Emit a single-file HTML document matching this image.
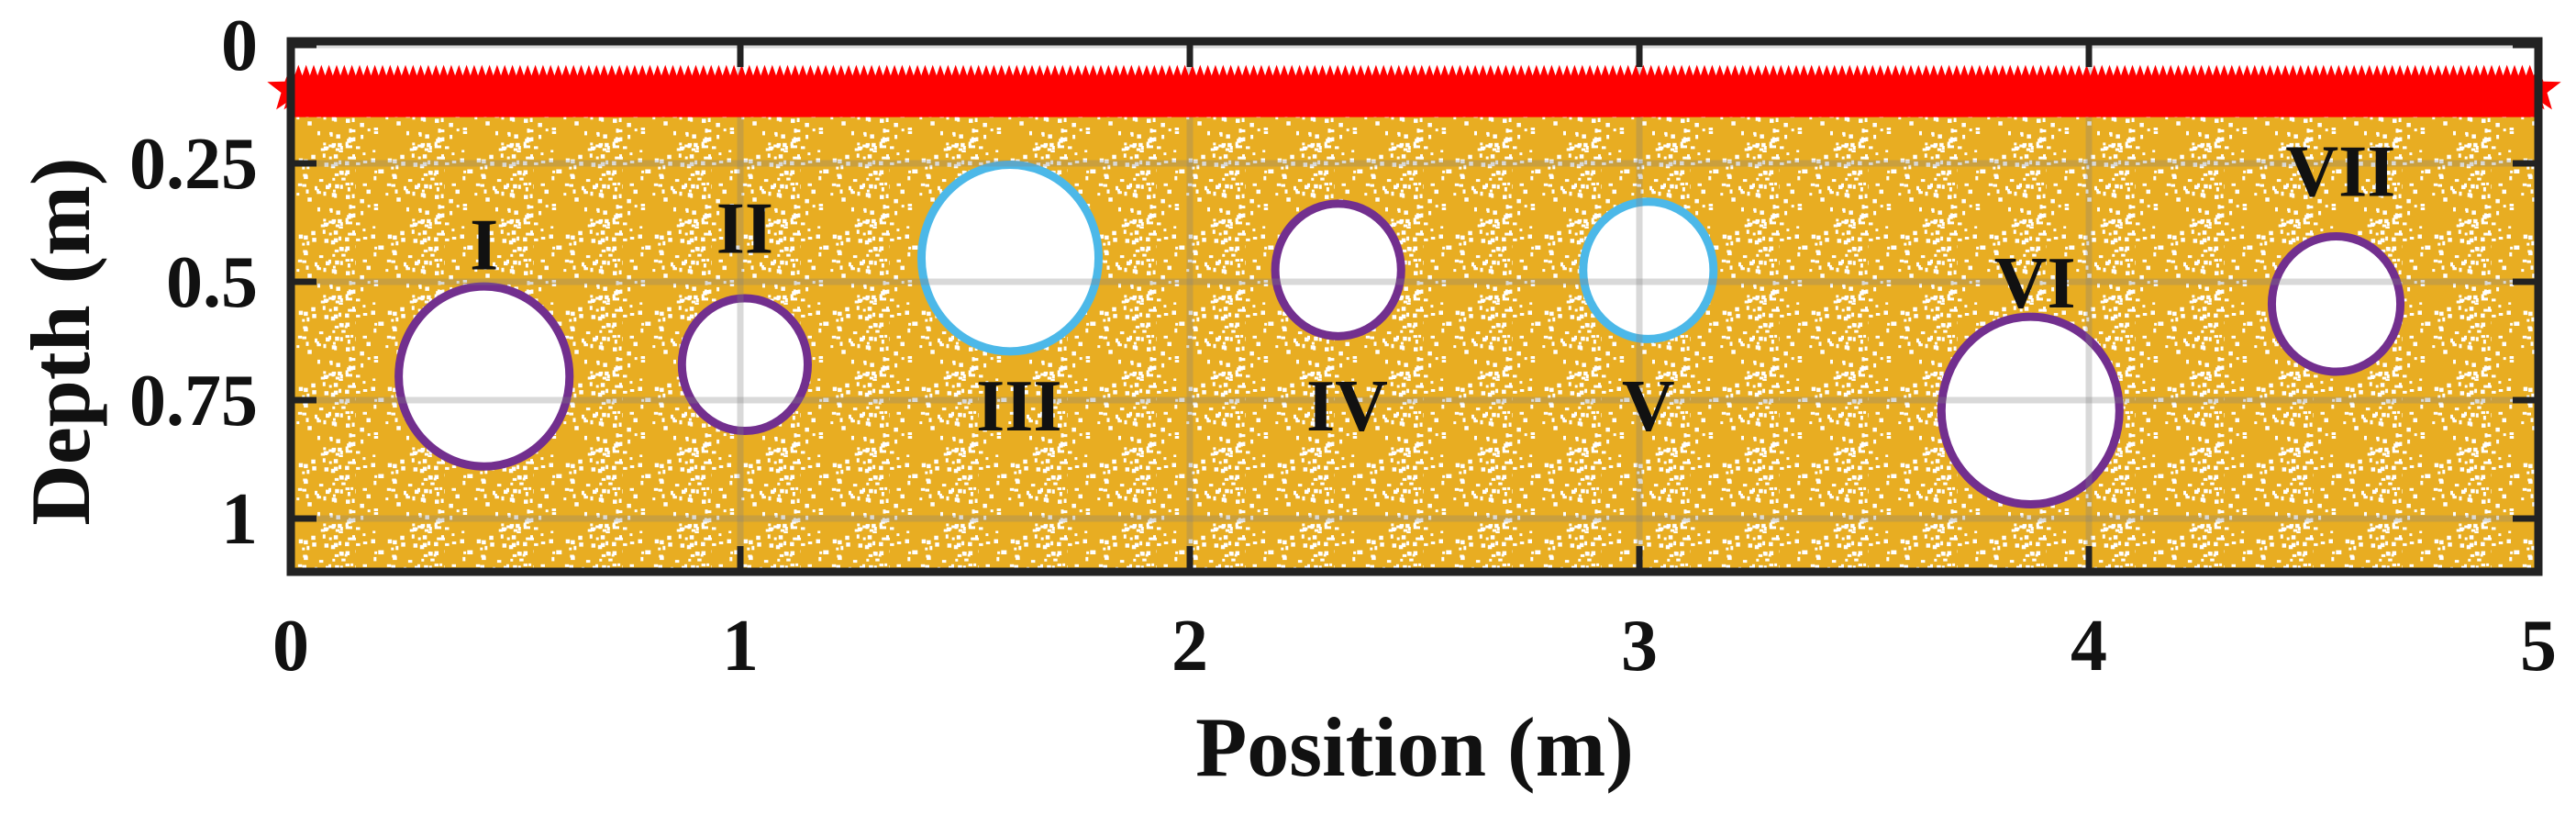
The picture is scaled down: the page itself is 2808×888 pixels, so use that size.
<!DOCTYPE html>
<html><head><meta charset="utf-8">
<style>
html,body{margin:0;padding:0;background:#fff;}
svg{display:block;}
text{font-family:"Liberation Serif",serif;font-weight:bold;fill:#111;}
</style></head>
<body>
<svg id="chart" width="2808" height="888" viewBox="0 0 2808 888" xmlns="http://www.w3.org/2000/svg">
<defs>
<pattern id="speckle" patternUnits="userSpaceOnUse" width="97" height="83">
<rect width="97" height="83" fill="#e8ad22"/>
<g id="specks" fill="#fff"></g>
</pattern>
<clipPath id="plotclip"><rect x="317" y="45" width="2450" height="578"/></clipPath>
</defs>
<g id="plot"></g>
</svg>
<script>
const xTicks=[0,1,2,3,4,5];
const yTicks=[0,0.25,0.5,0.75,1];
const yTickLabels=["0","0.25","0.5","0.75","1"];
const cavityNames=["I","II","III","IV","V","VI","VII"];
const cavityX=[0.43,1.01,1.60,2.33,3.02,3.87,4.55];
const cavityDepth=[0.70,0.675,0.45,0.475,0.476,0.772,0.547];
const cavityRadius=[0.19,0.14,0.197,0.14,0.145,0.198,0.143];
const cavityType=["purple","purple","cyan","purple","cyan","purple","purple"];
const labelX=[0.43,1.01,1.62,2.35,3.02,3.88,4.56];
const labelDepth=[0.42,0.385,0.76,0.76,0.76,0.50,0.265];
const sourceDepth=0.1;

const L=317,R=2767,T=45,B=623,Y0=49,SY=516,SX=490;
const xs=v=>L+v*SX, ys=v=>Y0+v*SY;
const NS="http://www.w3.org/2000/svg";
const svg=document.getElementById('chart');
const plot=document.getElementById('plot');
function mk(tag,attrs,parent){const e=document.createElementNS(NS,tag);for(const k in attrs)e.setAttribute(k,attrs[k]);(parent||plot).appendChild(e);return e;}

let seed=7;const rnd=()=>{seed=(seed*16807)%2147483647;return seed/2147483647;};
const sp=document.getElementById('specks');
for(let i=0;i<95;i++){mk('rect',{x:(rnd()*97).toFixed(1),y:(rnd()*83).toFixed(1),width:rnd()<0.5?4.5:3,height:rnd()<0.5?3:4.5},sp);}

const ground=mk('rect',{x:L,y:ys(sourceDepth),width:R-L,height:B-ys(sourceDepth),fill:"url(#speckle)"});



const colors={purple:"#722f8e",cyan:"#4cb8e8"};
cavityX.forEach((cx,i)=>{
  const c=mk('ellipse',{cx:xs(cx),cy:ys(cavityDepth[i]),rx:cavityRadius[i]*SX,ry:cavityRadius[i]*SY,fill:"#fff",stroke:colors[cavityType[i]],"stroke-width":9});
  
  
});

const grid=mk('g',{"clip-path":"url(#plotclip)"});


yTicks.forEach(v=>{mk('line',{x1:L,x2:R,y1:ys(v),y2:ys(v),stroke:"#808080","stroke-opacity":0.3,"stroke-width":7},grid);});
xTicks.forEach(v=>{mk('line',{x1:xs(v),x2:xs(v),y1:T,y2:B,stroke:"#808080","stroke-opacity":0.3,"stroke-width":7},grid);});

const stars=mk('g',{fill:"#ff0000"});


function starPts(cx,cy,ro,ri){let p=[];for(let k=0;k<10;k++){const a=-Math.PI/2+k*Math.PI/5,r=k%2?ri:ro;p.push((cx+r*Math.cos(a)).toFixed(1)+","+(cy+r*Math.sin(a)).toFixed(1));}return p.join(" ");}
const sy=ys(sourceDepth)-3;
mk('rect',{x:L,y:sy-12,width:R-L,height:42},stars);
for(let x=0;x<=5.0001;x+=0.017){mk('polygon',{points:starPts(xs(x),sy,27,11)},stars);}

cavityNames.forEach((n,i)=>{
  const t=mk('text',{x:xs(labelX[i]),y:ys(labelDepth[i])+28,"text-anchor":"middle","font-size":80});
  t.textContent=n;
  
  
});

const ticks=mk('g',{stroke:"#222","stroke-width":7});


yTicks.forEach(v=>{mk('line',{x1:L,x2:L+28,y1:ys(v),y2:ys(v)},ticks);mk('line',{x1:R-28,x2:R,y1:ys(v),y2:ys(v)},ticks);});
xTicks.forEach(v=>{mk('line',{x1:xs(v),x2:xs(v),y1:B,y2:B-28},ticks);mk('line',{x1:xs(v),x2:xs(v),y1:T,y2:T+28},ticks);});

const fr=mk('rect',{x:L,y:T,width:R-L,height:B-T,fill:"none",stroke:"#222","stroke-width":9});



yTicks.forEach((v,i)=>{const t=mk('text',{x:281,y:ys(v)+27,"text-anchor":"end","font-size":80});t.textContent=yTickLabels[i];

});
xTicks.forEach(v=>{const t=mk('text',{x:xs(v),y:730,"text-anchor":"middle","font-size":80});t.textContent=String(v);

});

const xt=mk('text',{x:1542,y:845,"text-anchor":"middle","font-size":92});xt.textContent="Position (m)";


const yt=mk('text',{x:0,y:0,"text-anchor":"middle","font-size":92,transform:"translate(97,372) rotate(-90)"});yt.textContent="Depth (m)";


</script>
</body></html>
